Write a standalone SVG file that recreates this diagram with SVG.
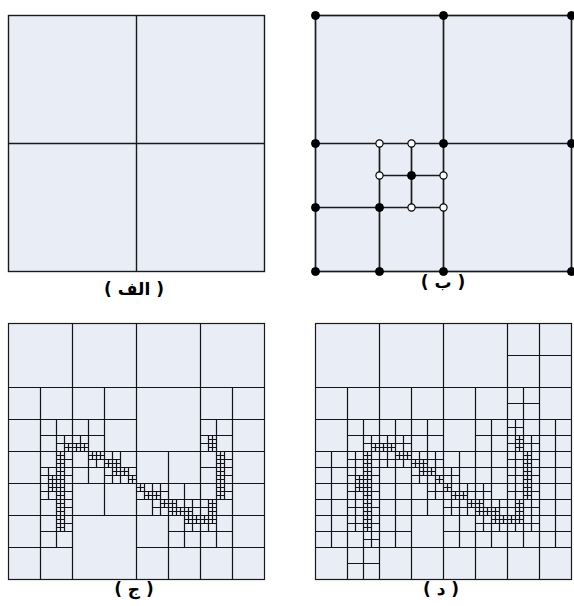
<svg xmlns="http://www.w3.org/2000/svg" xmlns:xlink="http://www.w3.org/1999/xlink" width="574" height="606" viewBox="0 0 574 606">
<style>
.bg{fill:#e9edf6;stroke:#1a1a1a;stroke-width:1.4}
.ln{fill:none;stroke:#1a1a1a;stroke-width:1.4}
.lb{fill:none;stroke:#1a1a1a;stroke-width:1.7}
.g{fill:none;stroke:#141414;stroke-width:1.2}
.dk{fill:#000;stroke:#000;stroke-width:1}
.wt{fill:#fff;stroke:#000;stroke-width:1.2}
.t{font-family:"DejaVu Sans","Noto Sans",sans-serif;font-size:17px;font-weight:bold;fill:#000;text-anchor:middle}
</style>
<defs>
<path id="c64" d="M0 32H64M32 0V64"/>
<path id="c32" d="M0 16H32M16 0V32"/>
<path id="c16" d="M0 8H16M8 0V16"/>
<path id="c8" d="M0 4H8M4 0V8"/>
</defs>

<g id="panel-a" transform="translate(8.5,15.5)">
<rect class="bg" x="0" y="0" width="256" height="256"/>
<path class="ln" d="M128 0V256M0 128H256"/>
</g>
<text class="t" x="134" y="295">( الف )</text>

<g id="panel-b" transform="translate(315.5,15.5)">
<rect class="bg" x="0" y="0" width="256" height="256" style="stroke-width:1.7"/>
<path class="lb" d="M128 0V256M0 128H256M64 128V256M0 192H128M96 128V192M64 160H128"/>
<g id="dots-black" class="dk">
<circle cx="0" cy="0" r="4"/><circle cx="128" cy="0" r="4"/><circle cx="256" cy="0" r="4"/>
<circle cx="0" cy="128" r="4"/><circle cx="128" cy="128" r="4"/><circle cx="256" cy="128" r="4"/>
<circle cx="0" cy="192" r="4"/><circle cx="64" cy="192" r="4"/><circle cx="96" cy="160" r="4"/>
<circle cx="0" cy="256" r="4"/><circle cx="64" cy="256" r="4"/><circle cx="128" cy="256" r="4"/><circle cx="256" cy="256" r="4"/>
</g>
<g id="dots-white" class="wt">
<circle cx="64" cy="128" r="3.6"/><circle cx="96" cy="128" r="3.6"/><circle cx="64" cy="160" r="3.6"/>
<circle cx="128" cy="160" r="3.6"/><circle cx="96" cy="192" r="3.6"/><circle cx="128" cy="192" r="3.6"/>
</g>
</g>
<text class="t" x="443" y="288">( ب )</text>

<g id="panel-c" transform="translate(8.5,323.5)">
<rect class="bg" x="0" y="0" width="256" height="256" style="stroke-width:1.2"/>
<g class="g">
<path d="M128 0V256M0 128H256M64 0V256M192 0V256M0 64H256M0 192H256"/>
<use xlink:href="#c64" x="0" y="64"/><use xlink:href="#c64" x="0" y="128"/><use xlink:href="#c64" x="0" y="192"/>
<use xlink:href="#c64" x="64" y="64"/><use xlink:href="#c64" x="64" y="128"/><use xlink:href="#c64" x="128" y="128"/>
<use xlink:href="#c64" x="128" y="192"/><use xlink:href="#c64" x="192" y="64"/><use xlink:href="#c64" x="192" y="128"/>
<use xlink:href="#c64" x="192" y="192"/>
<use xlink:href="#c32" x="32" y="96"/><use xlink:href="#c32" x="32" y="128"/><use xlink:href="#c32" x="32" y="160"/>
<use xlink:href="#c32" x="32" y="192"/><use xlink:href="#c32" x="64" y="96"/><use xlink:href="#c32" x="64" y="128"/>
<use xlink:href="#c32" x="96" y="128"/><use xlink:href="#c32" x="128" y="160"/><use xlink:href="#c32" x="160" y="160"/>
<use xlink:href="#c32" x="160" y="192"/><use xlink:href="#c32" x="192" y="96"/><use xlink:href="#c32" x="192" y="128"/>
<use xlink:href="#c32" x="192" y="160"/><use xlink:href="#c32" x="192" y="192"/>
<use xlink:href="#c16" x="48" y="112"/><use xlink:href="#c16" x="48" y="128"/><use xlink:href="#c16" x="48" y="144"/>
<use xlink:href="#c16" x="48" y="160"/><use xlink:href="#c16" x="48" y="176"/><use xlink:href="#c16" x="48" y="192"/>
<use xlink:href="#c16" x="32" y="144"/><use xlink:href="#c16" x="32" y="160"/><use xlink:href="#c16" x="64" y="112"/>
<use xlink:href="#c16" x="80" y="128"/><use xlink:href="#c16" x="96" y="128"/><use xlink:href="#c16" x="96" y="144"/>
<use xlink:href="#c16" x="112" y="144"/><use xlink:href="#c16" x="128" y="160"/><use xlink:href="#c16" x="144" y="160"/>
<use xlink:href="#c16" x="144" y="176"/><use xlink:href="#c16" x="160" y="176"/><use xlink:href="#c16" x="176" y="176"/>
<use xlink:href="#c16" x="176" y="192"/><use xlink:href="#c16" x="192" y="176"/><use xlink:href="#c16" x="192" y="192"/>
<use xlink:href="#c16" x="192" y="112"/><use xlink:href="#c16" x="208" y="128"/><use xlink:href="#c16" x="208" y="144"/>
<use xlink:href="#c16" x="208" y="160"/>
<g id="curve-cells-c">
<use xlink:href="#c8" x="48" y="128"/><use xlink:href="#c8" x="48" y="136"/><use xlink:href="#c8" x="48" y="144"/>
<use xlink:href="#c8" x="48" y="152"/><use xlink:href="#c8" x="48" y="160"/><use xlink:href="#c8" x="48" y="168"/>
<use xlink:href="#c8" x="48" y="176"/><use xlink:href="#c8" x="48" y="184"/><use xlink:href="#c8" x="48" y="192"/>
<use xlink:href="#c8" x="48" y="200"/><use xlink:href="#c8" x="40" y="152"/><use xlink:href="#c8" x="40" y="160"/>
<use xlink:href="#c8" x="56" y="120"/><use xlink:href="#c8" x="64" y="120"/><use xlink:href="#c8" x="72" y="120"/>
<use xlink:href="#c8" x="80" y="128"/><use xlink:href="#c8" x="88" y="128"/><use xlink:href="#c8" x="96" y="136"/>
<use xlink:href="#c8" x="104" y="136"/><use xlink:href="#c8" x="104" y="144"/><use xlink:href="#c8" x="112" y="144"/>
<use xlink:href="#c8" x="120" y="152"/><use xlink:href="#c8" x="128" y="160"/><use xlink:href="#c8" x="136" y="168"/>
<use xlink:href="#c8" x="144" y="168"/><use xlink:href="#c8" x="152" y="176"/><use xlink:href="#c8" x="160" y="176"/>
<use xlink:href="#c8" x="160" y="184"/><use xlink:href="#c8" x="168" y="184"/><use xlink:href="#c8" x="176" y="184"/>
<use xlink:href="#c8" x="176" y="192"/><use xlink:href="#c8" x="184" y="192"/><use xlink:href="#c8" x="192" y="192"/>
<use xlink:href="#c8" x="200" y="192"/><use xlink:href="#c8" x="200" y="176"/><use xlink:href="#c8" x="200" y="184"/>
<use xlink:href="#c8" x="208" y="128"/><use xlink:href="#c8" x="208" y="136"/><use xlink:href="#c8" x="208" y="144"/>
<use xlink:href="#c8" x="208" y="152"/><use xlink:href="#c8" x="208" y="160"/><use xlink:href="#c8" x="208" y="168"/>
<use xlink:href="#c8" x="200" y="112"/><use xlink:href="#c8" x="200" y="120"/>
</g>
</g>
</g>
<text class="t" x="134" y="595">( ج )</text>

<g id="panel-d" transform="translate(315.5,323.5)">
<rect class="bg" x="0" y="0" width="256" height="256" style="stroke-width:1.2"/>
<g class="g">
<path d="M128 0V256M0 128H256M64 0V256M192 0V256M0 64H256M0 192H256"/>
<use xlink:href="#c64" x="192" y="0"/>
<use xlink:href="#c64" x="0" y="64"/><use xlink:href="#c64" x="64" y="64"/><use xlink:href="#c64" x="128" y="64"/><use xlink:href="#c64" x="192" y="64"/>
<use xlink:href="#c64" x="0" y="128"/><use xlink:href="#c64" x="64" y="128"/><use xlink:href="#c64" x="128" y="128"/><use xlink:href="#c64" x="192" y="128"/>
<use xlink:href="#c64" x="0" y="192"/><use xlink:href="#c64" x="64" y="192"/><use xlink:href="#c64" x="128" y="192"/><use xlink:href="#c64" x="192" y="192"/>
<use xlink:href="#c32" x="192" y="64"/>
<use xlink:href="#c32" x="32" y="96"/><use xlink:href="#c32" x="64" y="96"/><use xlink:href="#c32" x="96" y="96"/>
<use xlink:href="#c32" x="160" y="96"/><use xlink:href="#c32" x="192" y="96"/><use xlink:href="#c32" x="224" y="96"/>
<use xlink:href="#c32" x="0" y="128"/><use xlink:href="#c32" x="32" y="128"/><use xlink:href="#c32" x="64" y="128"/><use xlink:href="#c32" x="96" y="128"/>
<use xlink:href="#c32" x="128" y="128"/><use xlink:href="#c32" x="160" y="128"/><use xlink:href="#c32" x="192" y="128"/><use xlink:href="#c32" x="224" y="128"/>
<use xlink:href="#c32" x="0" y="160"/><use xlink:href="#c32" x="32" y="160"/><use xlink:href="#c32" x="64" y="160"/><use xlink:href="#c32" x="96" y="160"/>
<use xlink:href="#c32" x="128" y="160"/><use xlink:href="#c32" x="160" y="160"/><use xlink:href="#c32" x="192" y="160"/><use xlink:href="#c32" x="224" y="160"/>
<use xlink:href="#c32" x="0" y="192"/><use xlink:href="#c32" x="32" y="192"/><use xlink:href="#c32" x="64" y="192"/>
<use xlink:href="#c32" x="128" y="192"/><use xlink:href="#c32" x="160" y="192"/><use xlink:href="#c32" x="192" y="192"/><use xlink:href="#c32" x="224" y="192"/>
<use xlink:href="#c32" x="32" y="224"/>
<use xlink:href="#c16" x="192" y="96"/>
<use xlink:href="#c16" x="48" y="112"/><use xlink:href="#c16" x="64" y="112"/><use xlink:href="#c16" x="80" y="112"/>
<use xlink:href="#c16" x="192" y="112"/><use xlink:href="#c16" x="208" y="112"/>
<use xlink:href="#c16" x="32" y="128"/><use xlink:href="#c16" x="48" y="128"/><use xlink:href="#c16" x="64" y="128"/><use xlink:href="#c16" x="80" y="128"/>
<use xlink:href="#c16" x="96" y="128"/><use xlink:href="#c16" x="112" y="128"/><use xlink:href="#c16" x="192" y="128"/><use xlink:href="#c16" x="208" y="128"/>
<use xlink:href="#c16" x="32" y="144"/><use xlink:href="#c16" x="48" y="144"/><use xlink:href="#c16" x="96" y="144"/><use xlink:href="#c16" x="112" y="144"/>
<use xlink:href="#c16" x="128" y="144"/><use xlink:href="#c16" x="192" y="144"/><use xlink:href="#c16" x="208" y="144"/>
<use xlink:href="#c16" x="32" y="160"/><use xlink:href="#c16" x="48" y="160"/><use xlink:href="#c16" x="112" y="160"/><use xlink:href="#c16" x="128" y="160"/>
<use xlink:href="#c16" x="144" y="160"/><use xlink:href="#c16" x="160" y="160"/><use xlink:href="#c16" x="192" y="160"/><use xlink:href="#c16" x="208" y="160"/>
<use xlink:href="#c16" x="32" y="176"/><use xlink:href="#c16" x="48" y="176"/><use xlink:href="#c16" x="128" y="176"/><use xlink:href="#c16" x="144" y="176"/>
<use xlink:href="#c16" x="160" y="176"/><use xlink:href="#c16" x="176" y="176"/><use xlink:href="#c16" x="192" y="176"/><use xlink:href="#c16" x="208" y="176"/>
<use xlink:href="#c16" x="32" y="192"/><use xlink:href="#c16" x="48" y="192"/><use xlink:href="#c16" x="160" y="192"/><use xlink:href="#c16" x="176" y="192"/>
<use xlink:href="#c16" x="192" y="192"/><use xlink:href="#c16" x="208" y="192"/>
<use xlink:href="#c16" x="48" y="208"/>
<g id="curve-cells-d">
<use xlink:href="#c8" x="48" y="128"/><use xlink:href="#c8" x="48" y="136"/><use xlink:href="#c8" x="48" y="144"/>
<use xlink:href="#c8" x="48" y="152"/><use xlink:href="#c8" x="48" y="160"/><use xlink:href="#c8" x="48" y="168"/>
<use xlink:href="#c8" x="48" y="176"/><use xlink:href="#c8" x="48" y="184"/><use xlink:href="#c8" x="48" y="192"/>
<use xlink:href="#c8" x="48" y="200"/><use xlink:href="#c8" x="40" y="152"/><use xlink:href="#c8" x="40" y="160"/>
<use xlink:href="#c8" x="56" y="120"/><use xlink:href="#c8" x="64" y="120"/><use xlink:href="#c8" x="72" y="120"/>
<use xlink:href="#c8" x="80" y="128"/><use xlink:href="#c8" x="88" y="128"/><use xlink:href="#c8" x="96" y="136"/>
<use xlink:href="#c8" x="104" y="136"/><use xlink:href="#c8" x="104" y="144"/><use xlink:href="#c8" x="112" y="144"/>
<use xlink:href="#c8" x="120" y="152"/><use xlink:href="#c8" x="128" y="160"/><use xlink:href="#c8" x="136" y="168"/>
<use xlink:href="#c8" x="144" y="168"/><use xlink:href="#c8" x="152" y="176"/><use xlink:href="#c8" x="160" y="176"/>
<use xlink:href="#c8" x="160" y="184"/><use xlink:href="#c8" x="168" y="184"/><use xlink:href="#c8" x="176" y="184"/>
<use xlink:href="#c8" x="176" y="192"/><use xlink:href="#c8" x="184" y="192"/><use xlink:href="#c8" x="192" y="192"/>
<use xlink:href="#c8" x="200" y="192"/><use xlink:href="#c8" x="200" y="176"/><use xlink:href="#c8" x="200" y="184"/>
<use xlink:href="#c8" x="208" y="128"/><use xlink:href="#c8" x="208" y="136"/><use xlink:href="#c8" x="208" y="144"/>
<use xlink:href="#c8" x="208" y="152"/><use xlink:href="#c8" x="208" y="160"/><use xlink:href="#c8" x="208" y="168"/>
<use xlink:href="#c8" x="200" y="112"/><use xlink:href="#c8" x="200" y="120"/>
</g>
</g>
</g>
<text class="t" x="441" y="595">( د )</text>
</svg>
